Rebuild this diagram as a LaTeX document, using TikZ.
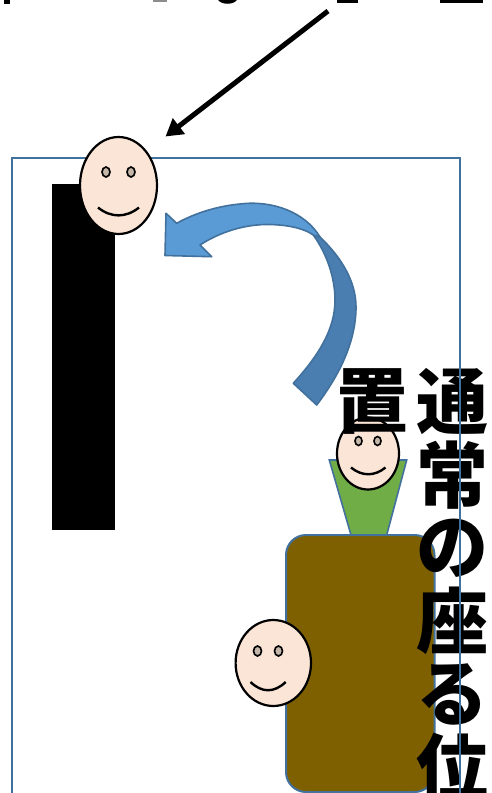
\documentclass[tikz,border=0pt]{standalone}
\usepackage{fontspec}
\usetikzlibrary{arrows.meta}
\newfontfamily\jp{Noto Sans CJK JP}
\definecolor{framecol}{RGB}{65,113,156}
\definecolor{skin}{RGB}{251,229,214}
\definecolor{eyecol}{RGB}{196,182,168}
\definecolor{lightblue}{RGB}{91,155,213}
\definecolor{darkblue}{RGB}{74,126,176}
\definecolor{shirt}{RGB}{112,173,71}
\definecolor{desk}{RGB}{127,96,0}
\tikzset{
  framebox/.style={draw=framecol, line width=2},
  head/.style={draw=black, fill=skin, line width=2.2},
  eye/.style={draw=black, fill=eyecol, line width=1.6},
  smile/.style={draw=black, line width=2.4},
  bendarrow/.style={draw=framecol, line width=1.6, line join=round},
  vtext/.style={font=\jp\bfseries\fontsize{72}{72}\selectfont, inner sep=0pt, anchor=center},
}
\begin{document}
\begin{tikzpicture}[x=1pt, y=-1pt]
\useasboundingbox (0,0) rectangle (492,793);
\clip (0,0) rectangle (492,793);
\fill[white] (0,0) rectangle (492,793);

% bottoms of the heading glyphs at the upper edge
\fill (4,0) rectangle (10,4);
\fill[black!45] (153,0) rectangle (167,2);
\fill (218,0) .. controls (222,5) and (233,5) .. (237,0) -- cycle;
\fill (337,0) rectangle (358,3);
\fill (440,0) rectangle (483,3);

% seated person: torso and head
\filldraw[draw=framecol, fill=shirt, line width=1.6]
  (329.3,460) -- (406.7,460) -- (386.7,535) -- (351,535) -- cycle;
\draw[head] (368,453.5) ellipse [x radius=31, y radius=36];
\draw[eye] (358.5,441) ellipse [x radius=3.5, y radius=4.5];
\draw[eye] (377.5,441) ellipse [x radius=3.5, y radius=4.5];
\draw[smile] (351,467.5) .. controls (362,476.5) and (374.5,476.5) .. (385.5,467.5);

% desk
\filldraw[draw=framecol, fill=desk, line width=2, rounded corners=20]
  (286,535) rectangle (434.5,792);

% person beside the desk
\draw[head] (273.3,663) ellipse [x radius=37.7, y radius=43];
\draw[eye] (257.5,651) ellipse [x radius=4, y radius=5];
\draw[eye] (278.5,651) ellipse [x radius=4, y radius=5];
\draw[smile] (250.5,682) .. controls (262,693) and (274,693) .. (285.7,682);

% vertical caption, read top to bottom, right column first
\node[vtext] (c1) at (452,402) {通};
\node[vtext] (c2) at (452,475) {常};
\node[vtext] (c3) at (452,548) {の};
\node[vtext] (c4) at (452,621) {座};
\node[vtext] (c5) at (452,694) {る};
\node[vtext] (c6) at (452,767) {位};
\node[vtext] (c7) at (372,402) {置};

% room outline
\draw[framebox] (12,800) -- (12,157.5) -- (459.5,157.5) -- (459.5,800);

% board
\fill[black] (51.7,184.3) rectangle (115,530);

% person at the board
\draw[head] (118.5,185.5) ellipse [x radius=38.5, y radius=48.5];
\draw[eye] (106,172) ellipse [x radius=4, y radius=5];
\draw[eye] (131,172) ellipse [x radius=4, y radius=5];
\draw[smile] (98,207.5) .. controls (111,218) and (126,218) .. (139,207.5);

% curved block arrow: back part
\filldraw[bendarrow, fill=darkblue]
  (320,237) .. controls (342,258) and (356,282) .. (356,307)
  .. controls (356,343) and (338,377) .. (316.7,405)
  -- (293.3,383.3)
  .. controls (318,356) and (335,330) .. (335,300)
  .. controls (335,278) and (327,254) .. (313.3,235)
  -- cycle;
% curved block arrow: front part with head
\filldraw[bendarrow, fill=lightblue]
  (320,237) .. controls (305,212) and (272,200) .. (240,204)
  .. controls (218,206) and (195,213) .. (176.7,223.3)
  -- (166,213.3) -- (165,255.5) -- (211.7,256.7) -- (200,245)
  .. controls (220,232) and (245,224) .. (270,224.5)
  .. controls (290,225) and (305,229) .. (313.3,235)
  -- cycle;

% pointer from the heading
\coordinate (lblend) at (328,11);
\coordinate (toface) at (165.5,136.5);
\draw[line width=5, -{Triangle[length=17, width=19]}] (lblend) -- (toface);
\end{tikzpicture}
\end{document}
